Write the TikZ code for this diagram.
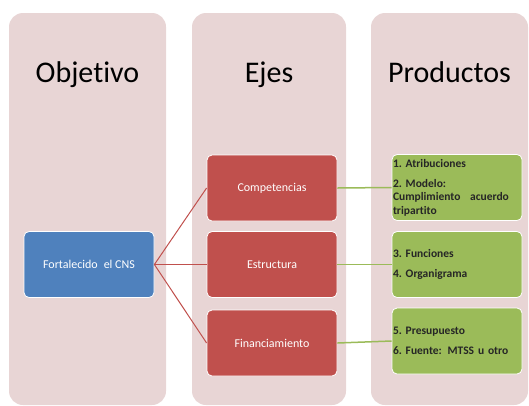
\documentclass[tikz,border=0pt]{standalone}
\usepackage{fontspec}
\setmainfont{Carlito}[Ligatures=NoCommon]
\usetikzlibrary{positioning}

\definecolor{colfill}{HTML}{E8D5D5}
\definecolor{ejered}{HTML}{C0504D}
\definecolor{objblue}{HTML}{4F81BD}
\definecolor{prodgreen}{HTML}{9BBB59}

\tikzset{
	colbox/.style={fill=colfill, rounded corners=14pt, minimum height=392pt, inner sep=0pt},
	coltitle/.style={anchor=base, font=\fontsize{30}{36}\selectfont},
	smartbox/.style={draw=white, line width=0.8pt, rounded corners=5pt, minimum width=130pt, minimum height=66pt, inner sep=1pt},
	objbox/.style={smartbox, fill=objblue, text=white, font=\fontsize{12}{14}\selectfont},
	ejebox/.style={smartbox, fill=ejered, text=white, font=\fontsize{12}{14}\selectfont},
	prodbox/.style={smartbox, fill=prodgreen, text=black!85, text width=128pt, align=left, font=\frenchspacing\bfseries\fontsize{11.5}{13.5}\selectfont},
	ejeline/.style={draw=ejered, line width=1pt},
	prodline/.style={draw=prodgreen, line width=1.5pt}
}

\begin{document}
\begin{tikzpicture}[x=1pt,y=-1pt]
	\useasboundingbox (0,0) rectangle (529,405);

	% columnas de fondo
	\foreach \x/\w/\name/\titulo in {87.5/157/colobj/Objetivo, 269/154/coleje/Ejes, 449.5/157/colprod/Productos} {
		\node[colbox, minimum width=\w pt] (\name) at (\x,209) {};
		\node[coltitle] (\name-t) at (\x,82) {\titulo};
	}

	\node[objbox] (obj) at (89,264.5) {Fortalecido\enspace el CNS};

	\node[ejebox] (eje1) at (272,188) {Competencias};
	\node[ejebox] (eje2) at (272,264.5) {Estructura};
	\node[ejebox] (eje3) at (272,343) {Financiamiento};

	\node[prodbox] (prod1) at (457,187.5) {1. Atribuciones\\[6.5pt]2. Modelo:\\Cumplimiento\enspace\ acuerdo\\tripartito};
	\node[prodbox] (prod2) at (457,264.5) {3. Funciones\\[6.5pt]4. Organigrama};
	\node[prodbox] (prod3) at (457,341) {5. Presupuesto\\[6.5pt]6. Fuente:\enspace MTSS u otro};

	\foreach \i in {1,2,3} {
		\draw[ejeline] (obj.east) -- (eje\i.west);
		\draw[prodline] (eje\i.east) -- (prod\i.west);
	}
\end{tikzpicture}
\end{document}
